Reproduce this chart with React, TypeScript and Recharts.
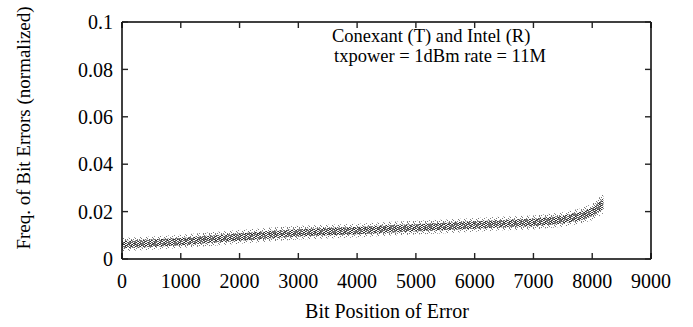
import React from 'react';
import { ComposedChart, Area, XAxis, YAxis, Label } from 'recharts';

// Bit positions (x) at which the spread of the error-frequency cloud was sampled
const bitPosition = [0, 500, 1000, 1500, 2000, 2500, 3000, 3500, 4000, 4500, 5000, 5500, 6000, 6500, 7000, 7500, 7800, 8000, 8100, 8190];

// Outer (sparse) envelope of the normalized bit-error frequencies
const haloLow = [0.0033, 0.0039, 0.0046, 0.0055, 0.0064, 0.0074, 0.0082, 0.0087, 0.0091, 0.0098, 0.0103, 0.0109, 0.0115, 0.0121, 0.0125, 0.0136, 0.0149, 0.0163, 0.0177, 0.0193];
const haloHigh = [0.0089, 0.0095, 0.0102, 0.0113, 0.0122, 0.0132, 0.014, 0.0145, 0.0149, 0.0156, 0.0161, 0.0167, 0.0173, 0.0179, 0.0184, 0.0197, 0.0213, 0.0233, 0.0255, 0.0275];

// Dense core of the cloud
const coreLow = [0.0045, 0.0051, 0.0058, 0.0068, 0.0077, 0.0087, 0.0095, 0.01, 0.0104, 0.0111, 0.0116, 0.0122, 0.0128, 0.0134, 0.0138, 0.015, 0.0164, 0.018, 0.0196, 0.0212];
const coreHigh = [0.0076, 0.0082, 0.0089, 0.0099, 0.0108, 0.0118, 0.0126, 0.0131, 0.0135, 0.0142, 0.0147, 0.0153, 0.0159, 0.0165, 0.017, 0.0183, 0.0198, 0.0216, 0.0236, 0.0256];

const xTicks = [0, 1000, 2000, 3000, 4000, 5000, 6000, 7000, 8000, 9000];
const yTicks = [0, 0.02, 0.04, 0.06, 0.08, 0.1];

const annotationLines = ['Conexant (T) and Intel (R)', 'txpower = 1dBm rate = 11M'];
const xTitle = 'Bit Position of Error';
const yTitle = 'Freq. of Bit Errors (normalized)';

const data = bitPosition.map((pos, i) => ({
  pos,
  halo: [haloLow[i], haloHigh[i]],
  core: [coreLow[i], coreHigh[i]],
}));

const FONT = "'Liberation Serif', 'Times New Roman', Times, serif";
const FS = 20;

const axisLine = { stroke: '#000', strokeWidth: 1.5 };
const tickLine = { stroke: '#222', strokeWidth: 1.4 };
const tickText = { fill: '#000', fontSize: FS, fontFamily: FONT };

// mirror axes keep their tick marks but show no labels
const NoLabel = () => <g />;

const XTitle = () => (
  <text x={387} y={318} textAnchor="middle" fontSize={FS} fontFamily={FONT} fill="#000">
    {xTitle}
  </text>
);

const YTitle = () => (
  <text
    x={0}
    y={0}
    transform="translate(30 128) rotate(-90)"
    textAnchor="middle"
    fontSize={19}
    fontFamily={FONT}
    fill="#000"
  >
    {yTitle}
  </text>
);

const Annotation = () => (
  <g fontSize={18.5} fontFamily={FONT} fill="#000">
    <text x={332} y={42}>{annotationLines[0]}</text>
    <text x={334} y={62}>{annotationLines[1]}</text>
  </g>
);

// speckle positions for the stippled cloud fills
const haloDots = [[0, 1], [3, 4], [5, 0], [1, 5], [4, 2], [2, 3], [5, 5]];
const coreDotsA = [[0, 0], [2, 1], [1, 3], [3, 2], [0, 2], [3, 0], [1, 1], [2, 3]];
const coreDotsB = [[1, 0], [4, 2], [2, 4], [0, 3], [3, 3], [4, 4], [0, 1]];

export default function App() {
  return (
    <div style={{ position: 'absolute', left: 0, top: 0, width: 693, height: 327, background: '#fff' }}>
      <ComposedChart width={693} height={327} data={data} margin={{ top: 21, right: 41, bottom: 0, left: 0 }}>
        <defs>
          <pattern id="haloFill" width={6} height={6} patternUnits="userSpaceOnUse">
            {haloDots.map(([x, y], i) => (
              <rect key={i} x={x} y={y} width={1} height={1} fill="#222" />
            ))}
          </pattern>
          <pattern id="coreFillA" width={4} height={4} patternUnits="userSpaceOnUse">
            {coreDotsA.map(([x, y], i) => (
              <rect key={i} x={x} y={y} width={1} height={1} fill="#000" />
            ))}
          </pattern>
          <pattern id="coreFillB" width={5} height={5} patternUnits="userSpaceOnUse">
            {coreDotsB.map(([x, y], i) => (
              <rect key={i} x={x} y={y} width={1} height={1} fill="#222" />
            ))}
          </pattern>
        </defs>

        <XAxis
          xAxisId="b"
          type="number"
          dataKey="pos"
          domain={[0, 9000]}
          ticks={xTicks}
          interval={0}
          height={68}
          tickSize={-6}
          tickMargin={21}
          axisLine={axisLine}
          tickLine={tickLine}
          tick={tickText}
          label={<Label content={XTitle} />}
        />
        <XAxis
          xAxisId="t"
          orientation="top"
          type="number"
          dataKey="pos"
          domain={[0, 9000]}
          ticks={xTicks}
          interval={0}
          height={1}
          tickSize={-6}
          tick={NoLabel}
          axisLine={axisLine}
          tickLine={tickLine}
          label={<Label content={Annotation} />}
        />
        <YAxis
          yAxisId="l"
          type="number"
          domain={[0, 0.1]}
          ticks={yTicks}
          interval={0}
          width={122}
          tickSize={-6}
          tickMargin={15}
          axisLine={axisLine}
          tickLine={tickLine}
          tick={tickText}
          label={<Label content={YTitle} />}
        />
        <YAxis
          yAxisId="r"
          orientation="right"
          type="number"
          domain={[0, 0.1]}
          ticks={yTicks}
          interval={0}
          width={1}
          tickSize={-6}
          tick={NoLabel}
          axisLine={axisLine}
          tickLine={tickLine}
        />

        <Area xAxisId="b" yAxisId="l" dataKey="halo" type="linear" stroke="none" fill="url(#haloFill)" isAnimationActive={false} />
        <Area xAxisId="b" yAxisId="l" dataKey="core" type="linear" stroke="none" fill="url(#coreFillB)" isAnimationActive={false} />
        <Area xAxisId="b" yAxisId="l" dataKey="core" type="linear" stroke="none" fill="url(#coreFillA)" isAnimationActive={false} />
        {/* mirror axes on top/right share the same scales; this invisible series binds them */}
        <Area xAxisId="t" yAxisId="r" dataKey="core" type="linear" stroke="none" fill="none" isAnimationActive={false} />
      </ComposedChart>
    </div>
  );
}
